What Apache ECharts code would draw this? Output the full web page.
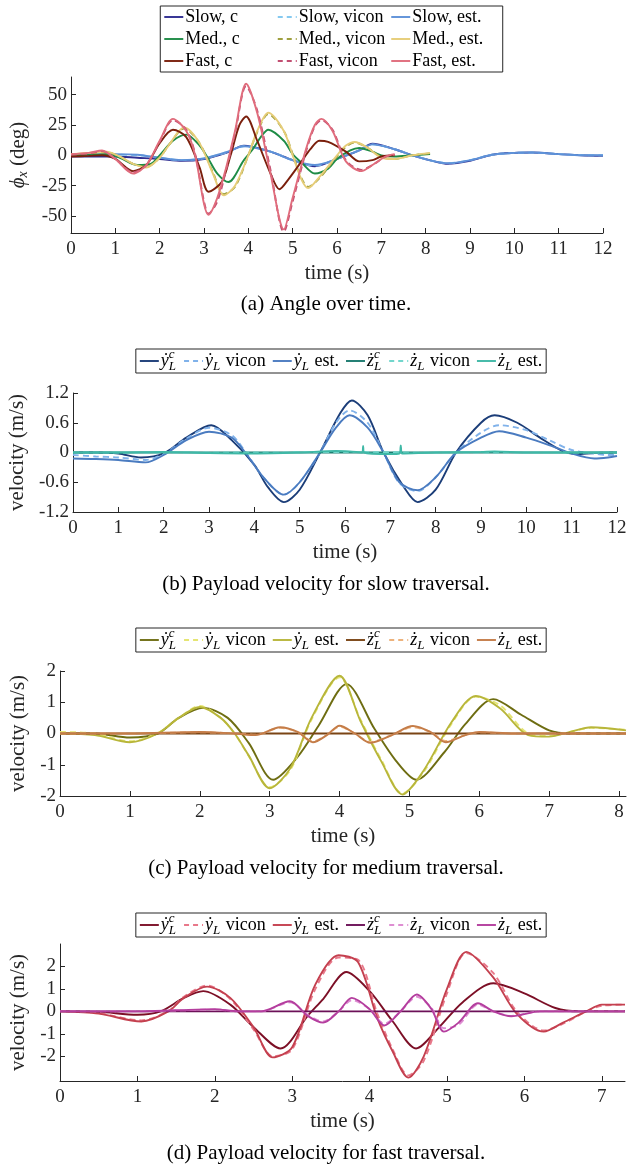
<!DOCTYPE html>
<html><head><meta charset="utf-8">
<script src="https://cdn.jsdelivr.net/npm/echarts@6/dist/echarts.min.js"></script>
<style>html,body{margin:0;padding:0;background:#fff}#c{width:641px;height:1169px}</style>
</head><body><div id="c"></div>
<script>
// ---------------- DATA ----------------
// (a) angle over time (deg)
const aSlowT = [0,0.5,1,1.5,2,2.5,3,3.5,3.9,4.5,5,5.5,6,6.5,6.8,7.3,7.7,8.2,8.5,9,9.5,10,10.4,11,11.5,12];
const aSlowC = [-1,-1,-1,-2,-3,-4.5,-3,2,8,3,-4,-9,-3,4,9.5,5,0,-5,-7,-4.5,0.5,2,2.3,1,0,-0.5];
const aSlowV = [0,0.3,0.5,0,-2,-4,-2.5,2.3,7.5,3,-4,-8.5,-3,4,9,5,0,-5,-6.5,-4,0.5,2,2.3,1,0.2,0];
const aSlowE = [0,0.5,1,0.5,-2,-4,-2.5,2.5,7.5,3,-4,-8,-3,4,9,5,0,-5,-6.5,-4,0.5,2,2.3,1,0,0];
const aMedCT = [0,0.4,0.8,1.1,1.5,1.8,2.0,2.3,2.6,2.9,3.1,3.3,3.55,3.9,4.1,4.3,4.45,4.8,5.0,5.2,5.5,5.8,6.0,6.3,6.5,6.8,7.0,7.3,7.7,8.1];
const aMedC  = [0,0.5,1,-2,-8,-7,0,12,17,8,-3,-15,-22,-4,5,16,21,12,1,-6,-15,-11,-3,4,6,3,0,-1,0,1];
const aMedET = [0,0.4,0.8,1.1,1.4,1.7,2.0,2.2,2.55,2.9,3.2,3.45,3.7,4.0,4.2,4.45,4.8,5.0,5.2,5.35,5.6,6.0,6.2,6.4,6.7,7.0,7.3,7.7,8.1];
const aMedV  = [0.5,1.5,2.5,-1,-7,-9.5,-2,8,22,10,-14,-32,-26,0,19,34,20,1,-19,-26,-19,-1,7,10.5,6,-1.5,-3,0,1.5];
const aMedE  = [1,2,3,-1,-7,-10,-2,8,23,10,-15,-33,-25,0,20,35,20,0,-20,-27,-18,0,8,11,6,-2,-3,0,2];
const aFastCT = [0,0.4,0.7,1.0,1.4,1.7,2.0,2.3,2.6,2.9,3.1,3.4,3.6,3.8,3.95,4.2,4.5,4.7,4.9,5.2,5.4,5.6,5.8,6.2,6.5,6.8,7.0,7.3];
const aFastC  = [-1,-0.5,0,-3,-13,-8,10,21,15,-10,-30,-22,0,25,32,12,-15,-28,-20,-5,5,12,11,3,-5,-4,-1,0];
const aFastET = [0,0.4,0.7,1.0,1.4,1.7,2.0,2.3,2.6,2.8,3.0,3.1,3.3,3.5,3.7,3.95,4.2,4.5,4.8,5.0,5.3,5.5,5.65,5.9,6.2,6.55,6.8,7.1,7.3];
const aFastV  = [0.5,1.5,3.5,-3,-14,-8,11,29,21,1,-38,-48,-38,-12,18,57,37,-12,-63,-38,3,24,29,21,-4,-12,-8,-1,0.5];
const aFastE  = [1,2,4,-3,-15,-8,12,30,20,0,-40,-49,-35,-10,20,59,35,-15,-61,-35,5,25,30,20,-5,-13,-8,-1,1];

// (b) slow traversal velocity (m/s)
const bCT = [0,0.5,1,1.5,2,2.5,3.05,3.5,4,4.3,4.65,5,5.45,5.9,6.15,6.5,6.85,7.3,7.6,8,8.45,9,9.3,9.8,10.3,10.8,11.1,11.5,12];
const bYC = [0,0,-0.02,-0.1,-0.02,0.3,0.55,0.25,-0.25,-0.7,-1.0,-0.75,0,0.8,1.05,0.75,0,-0.7,-1.0,-0.75,0,0.6,0.75,0.6,0.3,0.03,-0.03,-0.01,0];
const bET = [0,0.5,1,1.6,2,2.5,3.0,3.5,3.8,4.2,4.65,5.0,5.45,5.8,6.1,6.5,6.85,7.2,7.6,8.0,8.45,9.0,9.4,10.0,10.5,11.0,11.5,11.8,12];
const bYV = [-0.05,-0.08,-0.1,-0.15,-0.03,0.28,0.5,0.35,0.02,-0.5,-0.85,-0.6,0,0.6,0.85,0.6,0,-0.62,-0.78,-0.5,0,0.4,0.55,0.45,0.25,0.05,-0.02,-0.05,-0.05];
const bYE = [-0.12,-0.13,-0.15,-0.2,-0.05,0.25,0.42,0.3,0,-0.5,-0.85,-0.6,0,0.5,0.75,0.5,0,-0.6,-0.76,-0.5,0,0.3,0.43,0.3,0.15,-0.02,-0.12,-0.1,-0.07];
const bZCT = [0,12];
const bZC  = [0,0];
const bZVT = [0,2,4,6,8,10,12];
const bZV  = [0,0,0,0.01,0,0,0];
const bZET = [0,1,2,3,4,5,5.8,6.1,6.38,6.4,6.42,7,7.2,7.23,7.26,8,9,9.3,10,11,12];
const bZE  = [0,0,0.01,-0.01,-0.02,0,0.03,0.02,0,0.13,0,-0.03,-0.02,0.14,-0.02,0,0.01,0.02,0,0,0];

// (c) medium traversal velocity (m/s)
const cCT = [0,0.5,1.0,1.4,1.7,2.05,2.4,2.7,3.05,3.4,3.7,4.1,4.5,4.8,5.1,5.5,5.8,6.2,6.6,7.0,7.3,8.1];
const cYC = [0,0,-0.13,0,0.5,0.82,0.5,-0.3,-1.48,-0.75,0.25,1.58,0.15,-0.85,-1.48,-0.6,0.3,1.1,0.6,0.1,0,0];
const cET = [0,0.5,1.0,1.4,1.7,2.0,2.3,2.5,2.7,3.0,3.3,3.6,4.0,4.3,4.6,4.9,5.2,5.6,5.95,6.3,6.7,7.0,7.3,7.6,8.1];
const cYV = [0.05,0,-0.25,0.02,0.5,0.88,0.5,0,-0.72,-1.72,-1.15,0.45,1.8,0.45,-0.85,-1.92,-1.25,0.3,1.18,0.9,0,-0.08,0.05,0.18,0.12];
const cYE = [0,-0.05,-0.28,0,0.5,0.85,0.5,0,-0.7,-1.75,-1.1,0.5,1.85,0.4,-0.9,-1.95,-1.2,0.35,1.2,0.8,-0.05,-0.1,0.05,0.2,0.1];
const cZCT = [0,8.1];
const cZC  = [0,0];
const cZT  = [0,1,2,2.5,2.8,3.15,3.4,3.62,3.82,4.0,4.22,4.44,4.75,5.05,5.3,5.52,5.8,6.0,6.5,7,8.1];
const cZV  = [0,0,0.04,0,-0.04,0.18,0.05,-0.25,-0.05,0.22,0,-0.27,-0.05,0.2,0.05,-0.24,-0.05,0.04,0,0,0];
const cZE  = [0,0,0.05,0,-0.05,0.2,0.05,-0.28,-0.05,0.25,0,-0.3,-0.05,0.24,0.05,-0.28,-0.05,0.05,0,0,0];

// (d) fast traversal velocity (m/s)
const dCT = [0,0.5,1.0,1.3,1.6,1.85,2.2,2.5,2.85,3.2,3.4,3.7,4.0,4.3,4.6,4.9,5.2,5.6,6.0,6.4,6.7,7.3];
const dYC = [0,-0.02,-0.15,0,0.6,0.9,0.3,-0.7,-1.65,-0.2,0.55,1.75,0.9,-0.45,-1.65,-0.7,0.4,1.25,0.8,0.15,0,0];
const dET = [0,0.5,1.05,1.4,1.6,1.9,2.2,2.5,2.75,3.0,3.3,3.6,3.85,4.1,4.3,4.5,4.7,5.0,5.25,5.6,5.9,6.25,6.5,6.8,7.0,7.3];
const dYV = [0.02,-0.08,-0.4,0.02,0.65,1.15,0.55,-0.8,-2.0,-1.7,1.0,2.4,2.3,-0.1,-1.7,-2.85,-2.2,0.8,2.6,1.7,0,-0.85,-0.55,0,0.25,0.3];
const dYE = [0,-0.1,-0.45,0,0.6,1.1,0.6,-0.7,-2.05,-1.6,1.2,2.5,2.2,-0.3,-1.8,-2.95,-2.0,1.0,2.65,1.5,-0.1,-0.9,-0.5,0,0.3,0.3];
const dZCT = [0,7.3];
const dZC  = [0,0];
const dZT  = [0,1,1.5,2.0,2.3,2.6,2.97,3.2,3.4,3.6,3.77,4.0,4.19,4.4,4.61,4.8,4.96,5.15,5.4,5.6,5.83,6.2,6.5,7.3];
const dZV  = [0,0,0.04,0.08,0,0,0.4,-0.15,-0.45,0,0.5,0.1,-0.55,0,0.65,0.15,-0.75,-0.6,0.3,0,-0.2,0,0,0];
const dZE  = [0,0,0.05,0.1,0,0,0.45,-0.2,-0.5,0,0.6,0.1,-0.63,0,0.75,0.1,-0.9,-0.5,0.36,0,-0.22,0,0,0];

// tick labels
const ticksX12 = [0,1,2,3,4,5,6,7,8,9,10,11,12];
const ticksX8 = [0,1,2,3,4,5,6,7,8];
const ticksX7 = [0,1,2,3,4,5,6,7];
const ticksYa = [-50,-25,0,25,50];
const ticksYb = [-1.2,-0.6,0,0.6,1.2];
const ticksYc = [-2,-1,0,1,2];
const ticksYd = [-2,-1,0,1,2];

const captions = ['(a) Angle over time.','(b) Payload velocity for slow traversal.','(c) Payload velocity for medium traversal.','(d) Payload velocity for fast traversal.'];

// ---------------- STYLE ----------------
const SERIF = '"Liberation Serif","Times New Roman",serif';
const AX = '#262626';
const TICK_FS = 19, NAME_FS = 21, LEG_FS = 18, CAP_FS = 21;
const COL = {
  a:{sc:'#2F2D91', sv:'#85C9F0', se:'#5E91D8', mc:'#1E8C46', mv:'#9FA040', me:'#E6CD78', fc:'#7A1F0C', fv:'#C24F72', fe:'#E06C7C'},
  b:{yc:'#1B3D78', yv:'#80B2EA', ye:'#4A7BC0', zc:'#1A7A6E', zv:'#72D6CC', ze:'#3FB8A6'},
  c:{yc:'#6E6D12', yv:'#E5E573', ye:'#B8B63A', zc:'#7A4414', zv:'#EDB27C', ze:'#C47C48'},
  d:{yc:'#7C0F26', yv:'#E8788A', ye:'#C4404F', zc:'#6C1158', zv:'#DE8ED2', ze:'#B43E9E'}
};

function pts(t, v){ return t.map((x,i)=>[x, v[i]]); }
function ser(g, t, v, color, dashed){
  return {type:'line', xAxisIndex:g, yAxisIndex:g, data:pts(t,v), showSymbol:false, symbol:'none',
    smooth:0.3, silent:true, animation:false,
    lineStyle:{color, width:1.9, type: dashed ? [6,4] : 'solid'}, itemStyle:{color}};
}
function xAx(g, max, ticks, gap){
  return {type:'value', gridIndex:g, min:0, max,
    axisLine:{show:true, onZero:false, lineStyle:{color:AX, width:1}},
    axisTick:{show:true, inside:true, length:5, customValues:ticks, lineStyle:{color:AX}},
    axisLabel:{customValues:ticks, color:AX, fontFamily:SERIF, fontSize:TICK_FS, margin:7},
    splitLine:{show:false},
    name:'time (s)', nameLocation:'middle', nameGap:gap,
    nameTextStyle:{color:AX, fontFamily:SERIF, fontSize:NAME_FS}};
}
function yAx(g, min, max, ticks, name, gap, rich){
  return {type:'value', gridIndex:g, min, max,
    axisLine:{show:true, onZero:false, lineStyle:{color:AX, width:1}},
    axisTick:{show:true, inside:true, length:5, customValues:ticks, lineStyle:{color:AX}},
    axisLabel:{customValues:ticks, color:AX, fontFamily:SERIF, fontSize:TICK_FS, margin:4},
    splitLine:{show:false},
    name, nameLocation:'middle', nameGap:gap, nameRotate:90,
    nameTextStyle:Object.assign({color:AX, fontFamily:SERIF, fontSize:NAME_FS}, rich?{rich}:{})};
}

// ---------------- LEGENDS (graphic) ----------------
const cv = document.createElement('canvas').getContext('2d');
function fnt(k, fs){ const st = (k==='n')?'normal':'italic'; const size = (k==='s')?Math.round(fs*0.7):fs; return {st, size, css: st+' '+size+'px '+SERIF}; }
function partW(p, fs){
  if (p.t !== undefined){ cv.font = fnt(p.k,fs).css; return cv.measureText(p.t).width; }
  let w = 0; cv.font = fnt('s',fs).css;
  [p.sub, p.sup].forEach(s=>{ if(s) w = Math.max(w, cv.measureText(s).width); });
  return w + 1;
}
function labelW(parts, fs){ return parts.reduce((a,p)=>a+partW(p,fs),0); }
function txt(x, y, s, f){ return {type:'text', x, y, silent:true, z:100,
  style:{text:s, fontSize:f.size, fontStyle:f.st, fontFamily:SERIF, fill:'#000', align:'left', verticalAlign:'middle'}}; }
function drawLabel(out, x, y, parts, fs){
  parts.forEach(p=>{
    if (p.t !== undefined) out.push(txt(x, y, p.t, fnt(p.k,fs)));
    else { const f = fnt('s',fs); if (p.sup) out.push(txt(x, y-fs*0.33, p.sup, f)); if (p.sub) out.push(txt(x, y+fs*0.3, p.sub, f)); }
    x += partW(p, fs);
  });
}
const SAMPLE = 19, SGAP = 2;
function sample(out, x, y, color, dashed){
  out.push({type:'line', silent:true, z:100, shape:{x1:x, y1:y, x2:x+SAMPLE, y2:y},
    style:{stroke:color, lineWidth:1.9, lineDash: dashed ? [5,4] : null}});
}
function boxEl(x, y, w, h){ return {type:'rect', silent:true, z:99, shape:{x, y, width:w, height:h}, style:{fill:'#fff', stroke:AX, lineWidth:1}}; }

function legendGrid(out, rows, cx, top, fs, rowH){
  let maxW = 0;
  rows.forEach(r=>r.forEach(e=>{ maxW = Math.max(maxW, SAMPLE+SGAP+labelW(e.parts,fs)); }));
  const CW = maxW + 6, ncol = rows[0].length;
  const W = ncol*CW + 2, H = rows.length*rowH;
  const x0 = cx - W/2;
  out.push(boxEl(x0, top, W, H));
  rows.forEach((r,ri)=>r.forEach((e,ci)=>{
    const x = x0 + 4 + ci*CW, y = top + rowH/2 + ri*rowH;
    sample(out, x, y, e.color, e.dashed);
    drawLabel(out, x+SAMPLE+SGAP, y, e.parts, fs);
  }));
}
function legendRow(out, entries, cx, top, fs, h, gap){
  const ws = entries.map(e=>SAMPLE+SGAP+labelW(e.parts,fs));
  const W = ws.reduce((a,b)=>a+b,0) + gap*(entries.length-1) + 8;
  let x = cx - W/2; out.push(boxEl(x, top, W, h));
  x += 4; const y = top + h/2;
  entries.forEach((e,i)=>{ sample(out, x, y, e.color, e.dashed); drawLabel(out, x+SAMPLE+SGAP, y, e.parts, fs); x += ws[i] + gap; });
}
function velEntries(C){
  const Y = 'ẏ', Z = 'ż';
  return [
    {color:C.yc, parts:[{t:Y,k:'i'},{sup:'c',sub:'L'}]},
    {color:C.yv, dashed:true, parts:[{t:Y,k:'i'},{sub:'L'},{t:' vicon',k:'n'}]},
    {color:C.ye, parts:[{t:Y,k:'i'},{sub:'L'},{t:' est.',k:'n'}]},
    {color:C.zc, parts:[{t:Z,k:'i'},{sup:'c',sub:'L'}]},
    {color:C.zv, dashed:true, parts:[{t:Z,k:'i'},{sub:'L'},{t:' vicon',k:'n'}]},
    {color:C.ze, parts:[{t:Z,k:'i'},{sub:'L'},{t:' est.',k:'n'}]}
  ];
}

const G = [];
const A = COL.a;
legendGrid(G, [
  [{color:A.sc, parts:[{t:'Slow, c',k:'n'}]}, {color:A.sv, dashed:true, parts:[{t:'Slow, vicon',k:'n'}]}, {color:A.se, parts:[{t:'Slow, est.',k:'n'}]}],
  [{color:A.mc, parts:[{t:'Med., c',k:'n'}]}, {color:A.mv, dashed:true, parts:[{t:'Med., vicon',k:'n'}]}, {color:A.me, parts:[{t:'Med., est.',k:'n'}]}],
  [{color:A.fc, parts:[{t:'Fast, c',k:'n'}]}, {color:A.fv, dashed:true, parts:[{t:'Fast, vicon',k:'n'}]}, {color:A.fe, parts:[{t:'Fast, est.',k:'n'}]}]
], 331.5, 6, LEG_FS, 22);
legendRow(G, velEntries(COL.b), 341, 349, LEG_FS, 24, 7);
legendRow(G, velEntries(COL.c), 341, 628, LEG_FS, 24, 7);
legendRow(G, velEntries(COL.d), 341, 913, LEG_FS, 24, 7);
const capY = [304, 584, 868, 1153];
captions.forEach((c,i)=>G.push({type:'text', x:326, y:capY[i], silent:true,
  style:{text:c, fontSize:CAP_FS, fontFamily:SERIF, fill:'#000', align:'center', verticalAlign:'middle'}}));

// ---------------- CHART ----------------
const chart = echarts.init(document.getElementById('c'), null, {renderer:'canvas'});
const B = COL.b, Cc = COL.c, D = COL.d;
chart.setOption({
  animation:false,
  backgroundColor:'#fff',
  grid:[
    {left:71, top:77, width:532, height:156, outerBoundsMode:'none', containLabel:false},
    {left:73, top:393, width:544, height:119, outerBoundsMode:'none', containLabel:false},
    {left:60, top:671, width:566, height:125, outerBoundsMode:'none', containLabel:false},
    {left:60, top:944, width:565, height:137, outerBoundsMode:'none', containLabel:false}
  ],
  xAxis:[ xAx(0, 12, ticksX12, 30), xAx(1, 12, ticksX12, 30), xAx(2, 8.1, ticksX8, 30), xAx(3, 7.3, ticksX7, 30) ],
  yAxis:[
    yAx(0, -64, 64.5, ticksYa, '{i|ϕ}{s|x} (deg)', 32, {
      i:{fontStyle:'italic', fontFamily:SERIF, fontSize:NAME_FS, color:AX, lineHeight:24},
      s:{fontStyle:'italic', fontFamily:SERIF, fontSize:14, color:AX, lineHeight:14, verticalAlign:'bottom'}}),
    yAx(1, -1.2, 1.2, ticksYb, 'velocity (m/s)', 38),
    yAx(2, -2, 2, ticksYc, 'velocity (m/s)', 24),
    yAx(3, -3.1, 3.0, ticksYd, 'velocity (m/s)', 24)
  ],
  series:[
    ser(0, aSlowT, aSlowC, A.sc, false), ser(0, aSlowT, aSlowV, A.sv, true), ser(0, aSlowT, aSlowE, A.se, false),
    ser(0, aMedCT, aMedC, A.mc, false), ser(0, aMedET, aMedV, A.mv, true), ser(0, aMedET, aMedE, A.me, false),
    ser(0, aFastCT, aFastC, A.fc, false), ser(0, aFastET, aFastV, A.fv, true), ser(0, aFastET, aFastE, A.fe, false),

    ser(1, bCT, bYC, B.yc, false), ser(1, bET, bYV, B.yv, true), ser(1, bET, bYE, B.ye, false),
    ser(1, bZCT, bZC, B.zc, false), ser(1, bZVT, bZV, B.zv, true), ser(1, bZET, bZE, B.ze, false),

    ser(2, cCT, cYC, Cc.yc, false), ser(2, cET, cYV, Cc.yv, true), ser(2, cET, cYE, Cc.ye, false),
    ser(2, cZCT, cZC, Cc.zc, false), ser(2, cZT, cZV, Cc.zv, true), ser(2, cZT, cZE, Cc.ze, false),

    ser(3, dCT, dYC, D.yc, false), ser(3, dET, dYV, D.yv, true), ser(3, dET, dYE, D.ye, false),
    ser(3, dZCT, dZC, D.zc, false), ser(3, dZT, dZV, D.zv, true), ser(3, dZT, dZE, D.ze, false)
  ],
  graphic:G
});
</script></body></html>
